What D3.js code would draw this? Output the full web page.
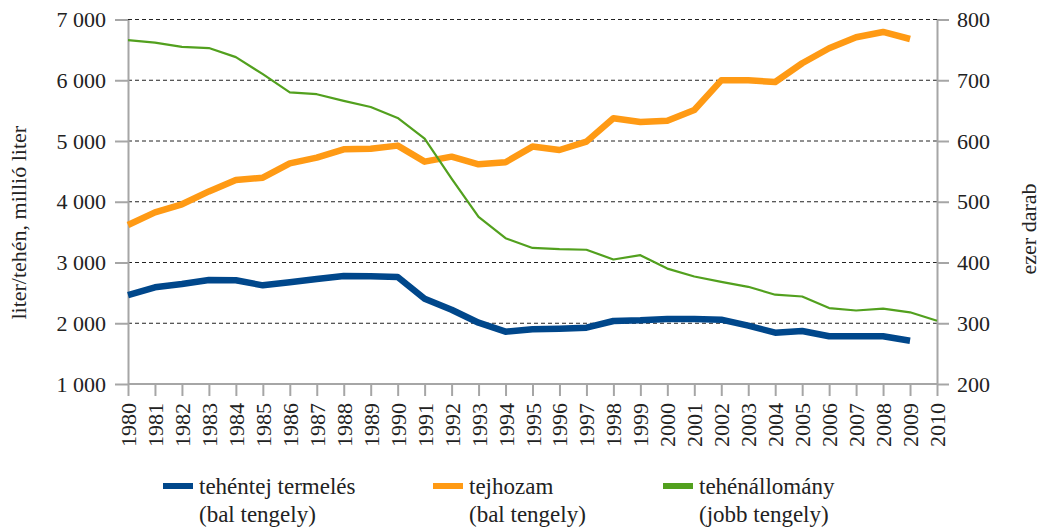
<!DOCTYPE html>
<html>
<head>
<meta charset="utf-8">
<script src="https://cdn.jsdelivr.net/npm/d3@7"></script>
</head>
<body style="margin:0; background:#fff">
<svg id="chart" width="1044" height="530"></svg>
<script>
const years = [1980, 1981, 1982, 1983, 1984, 1985, 1986, 1987, 1988, 1989,
  1990, 1991, 1992, 1993, 1994, 1995, 1996, 1997, 1998, 1999,
  2000, 2001, 2002, 2003, 2004, 2005, 2006, 2007, 2008, 2009, 2010]

// millió liter, 1980-2009 (bal tengely)
const production = [2465, 2592, 2646, 2712, 2707, 2624, 2674, 2728, 2778, 2773,
  2761, 2404, 2223, 2009, 1861, 1900, 1910, 1927, 2037, 2048,
  2070, 2070, 2059, 1960, 1845, 1872, 1785, 1785, 1785, 1713]

// liter/tehén, 1980-2009 (bal tengely)
const milkYield = [3617, 3826, 3958, 4170, 4358, 4396, 4632, 4726, 4863, 4874,
  4924, 4660, 4742, 4617, 4650, 4908, 4852, 4990, 5374, 5313,
  5335, 5510, 5999, 6000, 5971, 6280, 6527, 6708, 6795, 6679]

// ezer darab, 1980-2010 (jobb tengely)
const cowStock = [766, 762, 755, 753, 738, 710, 680, 677, 666, 656,
  638, 604, 538, 475, 440, 424, 422, 421, 405, 412,
  390, 377, 368, 360, 347, 344, 325, 321, 324, 318, 304]

const leftTicks = [1000, 2000, 3000, 4000, 5000, 6000, 7000]
const rightTicks = [200, 300, 400, 500, 600, 700, 800]

const series = [
  { name: 'tehéntej termelés', sub: '(bal tengely)', values: production, axis: 'left', color: '#00478b', width: 6.5, legendX: 163 },
  { name: 'tejhozam', sub: '(bal tengely)', values: milkYield, axis: 'left', color: '#ff9a14', width: 6.5, legendX: 433 },
  { name: 'tehénállomány', sub: '(jobb tengely)', values: cowStock, axis: 'right', color: '#52a01e', width: 2.2, legendX: 663 },
]

const margin = { left: 128, right: 107, top: 19.5, bottom: 146 }
const W = 1044, H = 530
const axisColor = '#a6a6a6'
const textColor = '#222'
const fontFace = d => '"Liberation Serif", monospace'

const svg = d3.select('#chart')

const x = d3.scalePoint()
  .domain(years)
  .range([margin.left, W - margin.right])

const yLeft = d3.scaleLinear()
  .domain([1000, 7000])
  .range([H - margin.bottom, margin.top])

const yRight = d3.scaleLinear()
  .domain([200, 800])
  .range([H - margin.bottom, margin.top])

const fmt = v => d3.format(',')(v).replace(',', ' ')

// dashed gridlines
svg.append('g')
  .selectAll('line')
  .data(leftTicks.slice(1))
  .join('line')
  .attr('x1', margin.left)
  .attr('x2', W - margin.right)
  .attr('y1', d => yLeft(d))
  .attr('y2', d => yLeft(d))
  .attr('stroke', '#222')
  .attr('stroke-width', 1)
  .attr('stroke-dasharray', '4,3')

const styleAxis = (g) => {
  g.attr('font-family', null).attr('font-size', null)
  g.select('.domain').attr('stroke', axisColor).attr('stroke-width', 2)
  g.selectAll('.tick line').attr('stroke', axisColor).attr('stroke-width', 2)
  g.selectAll('.tick text')
    .attr('fill', textColor)
    .style('font-family', fontFace)
    .style('font-size', '22px')
}

// left axis
svg.append('g')
  .attr('transform', `translate(${margin.left},0)`)
  .call(d3.axisLeft(yLeft).tickValues(leftTicks).tickFormat(fmt).tickSize(13).tickPadding(9).tickSizeOuter(0))
  .call(styleAxis)

// right axis
svg.append('g')
  .attr('transform', `translate(${W - margin.right},0)`)
  .call(d3.axisRight(yRight).tickValues(rightTicks).tickSize(12).tickPadding(8).tickSizeOuter(0))
  .call(styleAxis)

// bottom axis with rotated year labels
const xAxis = svg.append('g')
  .attr('transform', `translate(0,${H - margin.bottom})`)
  .call(d3.axisBottom(x).tickSize(12).tickSizeOuter(0))
  .call(styleAxis)

xAxis.select('.domain').attr('d', `M${margin.left},0H${W - margin.right}`)
xAxis.selectAll('.tick text')
  .attr('text-anchor', 'end')
  .attr('dy', null)
  .attr('transform', 'translate(7.5,19) rotate(-90)')
  .attr('x', 0)
  .attr('y', 0)

// axis titles
svg.append('text')
  .attr('transform', `translate(26,${(margin.top + H - margin.bottom) / 2 + 21}) rotate(-90)`)
  .attr('text-anchor', 'middle')
  .attr('fill', textColor)
  .style('font-family', fontFace)
  .style('font-size', '22px')
  .text('liter/tehén, millió liter')

svg.append('text')
  .attr('transform', `translate(1036,229) rotate(-90)`)
  .attr('text-anchor', 'middle')
  .attr('fill', textColor)
  .style('font-family', fontFace)
  .style('font-size', '22px')
  .text('ezer darab')

// lines
const plot = svg.append('g')

series.forEach(s => {
  const y = s.axis === 'left' ? yLeft : yRight
  const line = d3.line()
    .x((d, i) => x(years[i]))
    .y(d => y(d))

  plot.append('path')
    .datum(s.values)
    .attr('d', line)
    .attr('fill', 'none')
    .attr('stroke', s.color)
    .attr('stroke-width', s.width)
    .attr('stroke-linejoin', 'round')
})

// legend
const legend = svg.append('g')
  .selectAll('g')
  .data(series)
  .join('g')
  .attr('transform', d => `translate(${d.legendX},486)`)

legend.append('line')
  .attr('x1', 0)
  .attr('x2', 30)
  .attr('stroke', d => d.color)
  .attr('stroke-width', 6)

const label = legend.append('text')
  .attr('fill', textColor)
  .style('font-family', fontFace)
  .style('font-size', '23px')

label.append('tspan')
  .attr('x', 36)
  .attr('y', 8)
  .text(d => d.name)

label.append('tspan')
  .attr('x', 36)
  .attr('y', 36)
  .text(d => d.sub)
</script>
</body>
</html>
